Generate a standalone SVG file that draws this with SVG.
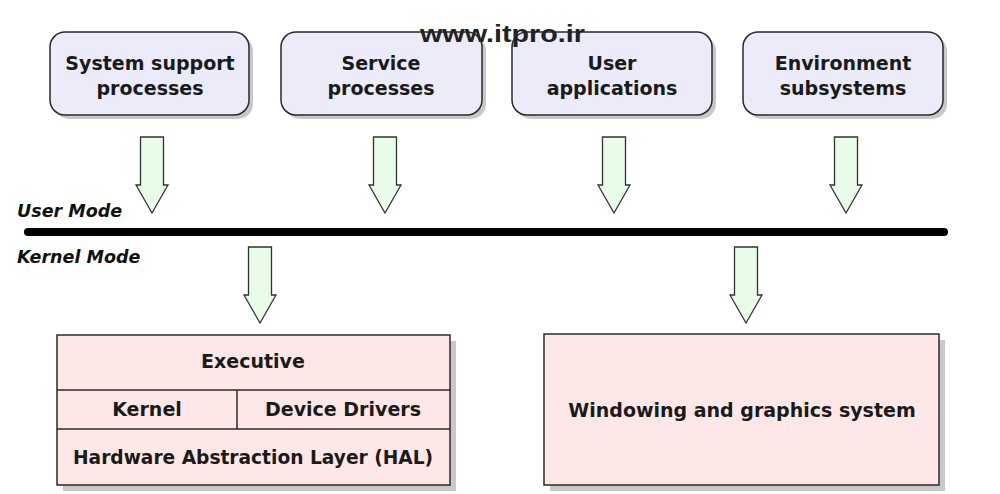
<svg xmlns="http://www.w3.org/2000/svg" width="1000" height="494" viewBox="0 0 1000 494">
<defs>
<style>
.top{fill:#ebebf9;stroke:#2a2a2a;stroke-width:1.5}
.shadow{fill:#c8c8c8}
.low{fill:#fde7e7;stroke:#2a2a2a;stroke-width:1.5}
.arr{fill:#e9fbe9;stroke:#333;stroke-width:1.3;stroke-linejoin:miter}
.t{font-family:"DejaVu Sans",Verdana,sans-serif;font-weight:bold;font-size:19px;fill:#1a1a1a;text-anchor:middle}
.mode{font-family:"DejaVu Sans",Verdana,sans-serif;font-weight:bold;font-style:italic;font-size:17.5px;fill:#111}
.wm{font-family:"Liberation Sans",Arial,sans-serif;font-weight:bold;font-size:24px;fill:#222}
</style>
<path id="arrow" class="arr" d="M-11.5,0 H11.5 V48 H16 L0,76 L-16,48 H-11.5 Z"/>
</defs>
<rect width="1000" height="494" fill="#ffffff"/>

<g id="node-system-support">
<rect class="shadow" x="54" y="36" width="199" height="83" rx="15"/>
<rect class="top" x="50" y="32" width="199" height="83" rx="15"/>
<text class="t" x="150" y="70">System support</text>
<text class="t" x="150" y="95">processes</text>
</g>
<g id="node-service">
<rect class="shadow" x="285" y="36" width="201" height="83" rx="15"/>
<rect class="top" x="281" y="32" width="201" height="83" rx="15"/>
<text class="t" x="381" y="70">Service</text>
<text class="t" x="381" y="95">processes</text>
</g>
<g id="node-user-apps">
<rect class="shadow" x="516" y="36" width="200" height="83" rx="15"/>
<rect class="top" x="512" y="32" width="200" height="83" rx="15"/>
<text class="t" x="612" y="70">User</text>
<text class="t" x="612" y="95">applications</text>
</g>
<g id="node-environment">
<rect class="shadow" x="747" y="36" width="200" height="83" rx="15"/>
<rect class="top" x="743" y="32" width="200" height="83" rx="15"/>
<text class="t" x="843" y="70">Environment</text>
<text class="t" x="843" y="95">subsystems</text>
</g>

<text id="watermark" class="wm" x="420" y="42" textLength="165" lengthAdjust="spacingAndGlyphs">www.itpro.ir</text>

<g id="mode-boundary">
<line x1="28" y1="232" x2="944" y2="232" stroke="#000" stroke-width="8" stroke-linecap="round"/>
<text class="mode" x="17" y="217">User Mode</text>
<text class="mode" x="17" y="263">Kernel Mode</text>
</g>

<g id="connectors">
<use href="#arrow" x="152" y="137"/>
<use href="#arrow" x="385" y="137"/>
<use href="#arrow" x="614" y="137"/>
<use href="#arrow" x="846" y="137"/>
<use href="#arrow" x="260" y="247"/>
<use href="#arrow" x="746" y="247"/>
</g>

<g id="node-kernel-stack">
<rect class="shadow" x="63" y="341" width="393" height="150"/>
<rect class="low" x="57" y="335" width="393" height="150"/>
<line x1="57" y1="390" x2="450" y2="390" stroke="#2a2a2a" stroke-width="1.5"/>
<line x1="57" y1="429" x2="450" y2="429" stroke="#2a2a2a" stroke-width="1.5"/>
<line x1="237" y1="390" x2="237" y2="429" stroke="#2a2a2a" stroke-width="1.5"/>
<text class="t" x="253" y="368">Executive</text>
<text class="t" x="147" y="416">Kernel</text>
<text class="t" x="343" y="416">Device Drivers</text>
<text class="t" x="253" y="464" textLength="360" lengthAdjust="spacingAndGlyphs">Hardware Abstraction Layer (HAL)</text>
</g>

<g id="node-windowing">
<rect class="shadow" x="550" y="340" width="395" height="151"/>
<rect class="low" x="544" y="334" width="395" height="151"/>
<text class="t" x="742" y="417">Windowing and graphics system</text>
</g>
</svg>
